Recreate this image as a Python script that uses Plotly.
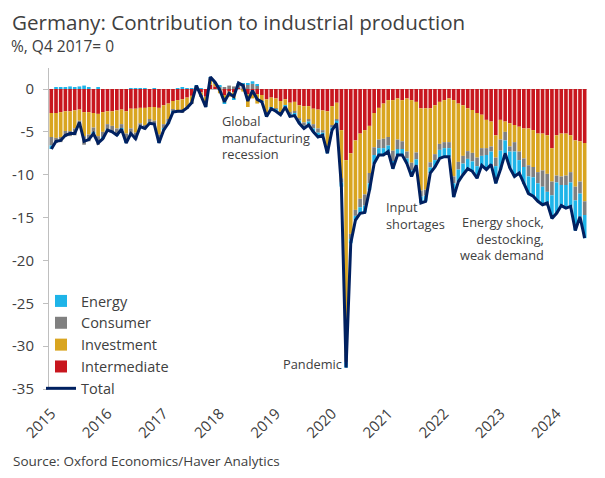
import plotly.graph_objects as go

# ---- data (monthly, Jan 2015 - Jul 2024), % contribution, Q4 2017 = 0 ----
months = [f"{y}-{m:02d}" for y in range(2015, 2025) for m in range(1, 13)][:115]

total = [
    -7.0, -6.1, -6.0, -5.4, -5.2, -5.2, -3.9, -6.1, -5.9, -5.2, -6.3, -5.8,
    -4.8, -5.0, -5.4, -4.7, -6.3, -5.2, -5.8, -4.4, -4.6, -4.0, -4.1, -6.3,
    -4.8, -4.0, -2.7, -2.6, -2.6, -2.2, -1.6, 0.4, -0.8, -2.1, 1.4, 0.8,
    -0.1, -1.5, -0.5, -0.9, 0.7, 0.4, -1.4, -0.2, -1.2, -1.5, -3.2, -2.3,
    -2.6, -3.0, -2.1, -3.2, -3.1, -4.0, -4.6, -4.2, -5.0, -5.6, -5.4, -7.5,
    -4.8, -4.0, -11.4, -32.5, -18.0, -15.3, -14.5, -14.4, -11.8, -8.7, -7.7, -7.7,
    -7.3, -9.3, -7.7, -7.7, -8.7, -10.2, -8.9, -13.3, -13.1, -9.8, -9.1, -8.1,
    -7.9, -7.9, -12.6, -10.8, -10.0, -9.3, -9.6, -10.4, -8.9, -9.4, -8.8, -11.0,
    -9.4, -7.5, -9.2, -10.2, -9.8, -11.1, -12.2, -12.5, -13.1, -13.5, -13.3, -15.1,
    -14.5, -13.6, -13.9, -13.7, -16.5, -14.9, -17.4,
]

intermediate = [
    -2.8, -2.8, -2.7, -2.6, -2.6, -2.5, -2.4, -2.7, -2.7, -2.8, -2.9, -2.7,
    -2.6, -2.6, -2.5, -2.4, -2.6, -2.3, -2.3, -2.2, -2.2, -2.1, -2.1, -2.2,
    -1.9, -1.7, -1.4, -1.3, -1.2, -1.0, -0.8, 0.1, -0.4, -0.9, 0.5, 0.3,
    0.0, -0.7, -0.3, -0.4, 0.1, -0.1, -0.6, -0.3, -0.6, -0.7, -1.2, -1.0,
    -1.1, -1.4, -1.2, -1.6, -1.5, -1.9, -2.0, -2.0, -2.3, -2.4, -2.5, -2.6,
    -2.0, -1.6, -4.8, -8.3, -7.5, -6.0, -5.2, -4.8, -4.3, -2.8, -2.2, -1.7,
    -1.3, -1.3, -1.1, -1.3, -1.1, -1.3, -1.5, -2.25, -2.25, -2.25, -1.9, -1.5,
    -1.3, -1.1, -1.3, -1.7, -1.9, -2.25, -2.45, -2.8, -3.0, -3.6, -3.8, -5.4,
    -3.6, -3.8, -4.0, -4.2, -4.4, -4.6, -4.6, -4.8, -5.2, -5.2, -5.4, -6.9,
    -5.4, -5.2, -5.2, -5.4, -6.0, -6.1, -6.3,
]

investment = [
    -2.8, -2.9, -2.9, -2.3, -2.3, -2.1, -1.3, -2.8, -2.6, -1.7, -2.6, -2.3,
    -1.5, -1.7, -2.1, -1.7, -2.6, -2.3, -2.8, -1.8, -2.0, -1.4, -1.6, -3.1,
    -2.2, -1.8, -1.0, -1.2, -1.4, -1.2, -0.8, 0.1, -0.4, -0.8, 0.6, 0.3,
    -0.5, -0.9, -0.6, -0.7, 0.0, -0.2, -1.5, -0.8, -1.1, -0.7, -1.5, -1.1,
    -1.2, -1.3, -0.7, -1.1, -1.1, -1.5, -1.9, -1.5, -1.8, -2.2, -2.3, -4.1,
    -2.2, -1.9, -5.6, -22.6, -9.4, -8.1, -7.6, -7.5, -5.5, -4.0, -3.7, -4.1,
    -4.3, -5.9, -4.8, -4.8, -6.2, -7.3, -5.9, -9.6, -9.5, -6.3, -5.7, -4.9,
    -4.9, -5.1, -8.9, -6.8, -5.9, -5.0, -5.0, -5.2, -3.9, -3.3, -2.9, -2.6,
    -2.3, -1.2, -2.7, -2.0, -2.9, -3.5, -4.3, -4.3, -4.5, -4.3, -4.5, -3.9,
    -4.7, -5.0, -4.9, -4.3, -5.4, -4.7, -6.8,
]

consumer = [
    -1.0, -0.6, -0.6, -0.7, -0.6, -0.8, -0.5, -1.0, -0.8, -0.6, -1.0, -0.7,
    -0.6, -0.6, -0.7, -0.5, -0.9, -0.7, -0.8, -0.5, -0.5, -0.4, -0.5, -0.8,
    -0.5, -0.4, -0.2, -0.2, -0.2, -0.1, -0.1, 0.1, -0.1, -0.3, 0.2, 0.1,
    0.3, 0.2, 0.4, 0.3, 0.5, 0.6, 0.5, 0.6, 0.4, 0.0, -0.3, -0.1,
    -0.1, -0.2, 0.0, -0.2, -0.2, -0.3, -0.4, -0.3, -0.5, -0.5, -0.3, -0.5,
    -0.3, -0.2, -0.5, -1.0, -0.6, -0.7, -1.0, -1.3, -1.2, -0.9, -1.0, -1.1,
    -1.0, -1.2, -1.1, -0.9, -0.8, -0.9, -0.8, -0.7, -0.7, -0.6, -0.7, -0.7,
    -0.7, -0.7, -0.8, -0.9, -0.9, -0.9, -1.0, -1.0, -0.9, -0.8, -0.6, -1.0,
    -1.3, -1.0, -0.6, -1.1, -1.0, -1.0, -1.3, -1.2, -1.3, -1.9, -2.1, -1.6,
    -0.8, -1.0, -1.1, -1.2, -1.6, -1.4, -1.6,
]

energy = [
    -0.4, 0.2, 0.2, 0.2, 0.3, 0.2, 0.3, 0.4, 0.2, -0.1, 0.2, -0.1,
    -0.1, -0.1, -0.1, -0.1, -0.2, 0.1, 0.1, 0.1, 0.1, -0.1, 0.1, -0.2,
    -0.2, -0.1, -0.1, 0.1, 0.2, 0.1, 0.1, 0.1, 0.1, -0.1, 0.1, 0.1,
    0.1, -0.1, 0.0, -0.1, 0.1, 0.1, 0.2, 0.3, 0.1, -0.1, -0.2, -0.1,
    -0.2, -0.1, -0.2, -0.3, -0.3, -0.3, -0.3, -0.4, -0.4, -0.5, -0.3, -0.3,
    -0.3, -0.3, -0.5, -0.6, -0.5, -0.5, -0.7, -0.8, -0.8, -1.0, -0.8, -0.8,
    -0.7, -0.9, -0.7, -0.7, -0.6, -0.7, -0.7, -0.75, -0.65, -0.65, -0.8, -1.0,
    -1.0, -1.0, -1.6, -1.4, -1.3, -1.15, -1.15, -1.4, -1.1, -1.7, -1.5, -2.0,
    -2.2, -1.5, -1.9, -2.9, -1.5, -2.0, -2.0, -2.2, -2.1, -2.1, -1.3, -2.7,
    -3.6, -2.4, -2.7, -2.8, -3.5, -2.7, -2.7,
]

year_ticks = [f"{y}-01" for y in range(2015, 2025)]
year_labels = [str(y) for y in range(2015, 2025)]
y_ticks = [0, -5, -10, -15, -20, -25, -30, -35]
y_labels = ["0", "-5", "-10", "-15", "-20", "-25", "-30", "-35"]

# ---- styling ----
FONT = "Open Sans"
TXT = "#404040"
C_INTER = "#C8161E"
C_INV = "#D9A520"
C_CONS = "#808080"
C_EN = "#1EB4E8"
C_TOT = "#002060"

fig = go.Figure()
for name, vals, col, rank in [
    ("Intermediate", intermediate, C_INTER, 4),
    ("Investment", investment, C_INV, 3),
    ("Consumer", consumer, C_CONS, 2),
    ("Energy", energy, C_EN, 1),
]:
    fig.add_trace(go.Bar(x=months, y=vals, name=name, marker_color=col,
                         marker_line_width=0, legendrank=rank))
fig.add_trace(go.Scatter(x=months, y=total, name="Total", mode="lines",
                         line=dict(color=C_TOT, width=3), legendrank=5))

# page body has an 8px default margin: figure is drawn 8px in from the corner
OFF = 8
W, H = 605 - OFF, 478 - OFF
L, R, T, B = 41, 18, 60, 89
pw, ph = W - L - R, H - T - B

def fx(xr):  # reference-page x pixel -> paper coordinate
    return (xr - OFF - L) / pw

def fy(yr):  # reference-page y pixel -> paper coordinate
    return (H - B - (yr - OFF)) / ph

fig.update_layout(
    width=W, height=H,
    margin=dict(l=L, r=R, t=T, b=B, autoexpand=False),
    paper_bgcolor="white", plot_bgcolor="white",
    barmode="relative", bargap=0.22,
    font=dict(family=FONT, color=TXT, size=14),
    showlegend=True,
    legend=dict(x=fx(41), y=fy(285), xanchor="left", yanchor="top",
                font=dict(family=FONT, size=14.5, color=TXT),
                bgcolor="rgba(0,0,0,0)", tracegroupgap=0),
    xaxis=dict(type="category", range=[-0.5, len(months) - 0.5],
               tickmode="array", tickvals=year_ticks, ticktext=year_labels,
               tickangle=-45, showline=False, ticks="", showgrid=False,
               ticklabelstandoff=12,
               tickfont=dict(family=FONT, size=15, color=TXT)),
    yaxis=dict(range=[-35, 2.45], tickmode="array", tickvals=y_ticks,
               ticktext=y_labels, showgrid=False, showline=True,
               linecolor="#BFBFBF", linewidth=1, ticks="outside", ticklen=5,
               tickcolor="#BFBFBF", zeroline=True, zerolinecolor="#BFBFBF",
               zerolinewidth=1, tickfont=dict(family=FONT, size=15, color=TXT),
               ticklabelstandoff=6),
)

anns = [
    dict(text="Germany: Contribution to industrial production", x=fx(10), y=fy(22),
         xanchor="left", yanchor="middle", font=dict(size=20.6, color=TXT)),
    dict(text="%, Q4 2017= 0", x=fx(9), y=fy(46), xanchor="left",
         yanchor="middle", font=dict(size=15.5, color=TXT)),
    dict(text="Global<br>manufacturing<br>recession", x=fx(220), y=fy(137),
         xanchor="left", yanchor="middle", align="left", font=dict(size=12.8, color=TXT)),
    dict(text="Pandemic", x=fx(344), y=fy(364), xanchor="right",
         yanchor="middle", font=dict(size=12.8, color=TXT)),
    dict(text="Input<br>shortages", x=fx(384), y=fy(215), xanchor="left",
         yanchor="middle", align="left", font=dict(size=12.8, color=TXT)),
    dict(text="Energy shock,<br>destocking,<br>weak demand", x=fx(546), y=fy(239),
         xanchor="right", yanchor="middle", align="right", font=dict(size=12.8, color=TXT)),
    dict(text="Source: Oxford Economics/Haver Analytics", x=fx(11), y=fy(461),
         xanchor="left", yanchor="middle", font=dict(size=13.5, color=TXT)),
]
for a in anns:
    a.update(xref="paper", yref="paper", showarrow=False)
    a["font"]["family"] = FONT
fig.update_layout(annotations=anns)

fig.write_html("out.html")
